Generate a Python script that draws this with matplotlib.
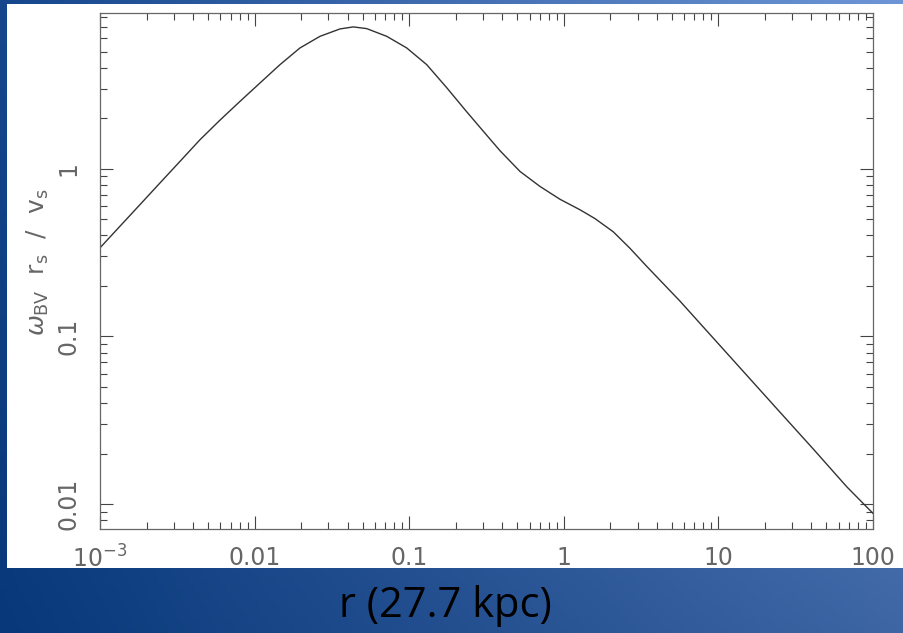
import matplotlib
matplotlib.use("Agg")
import matplotlib.pyplot as plt
from matplotlib.ticker import FixedLocator, FixedFormatter, LogLocator, NullFormatter
import numpy as np

# curve (r in units of 27.7 kpc)
r_vals = [0.001, 0.001346, 0.001814, 0.002444, 0.003293, 0.004434, 0.005972, 0.008042,
          0.010837, 0.014598, 0.01966, 0.02649, 0.03567, 0.04348, 0.05311, 0.07153,
          0.09634, 0.1298, 0.1748, 0.2353, 0.3172, 0.3867, 0.5209, 0.7015, 0.945,
          1.273, 1.591, 2.09, 2.681, 3.438, 5.627, 9.242, 15.19, 24.96, 41.1, 67.6, 100.0]
w_vals = [0.3375, 0.454, 0.611, 0.823, 1.107, 1.4898, 1.95, 2.522,
          3.248, 4.178, 5.256, 6.165, 6.823, 7.015, 6.852, 6.165,
          5.256, 4.178, 3.045, 2.189, 1.585, 1.281, 0.9636, 0.7843, 0.6575,
          0.5692, 0.5043, 0.4205, 0.3352, 0.2618, 0.1628, 0.09795, 0.0589, 0.03541,
          0.02129, 0.01269, 0.0088]

x_ticks = [1e-3, 1e-2, 1e-1, 1, 10, 100]
x_labels = [r"$10^{-3}$", "0.01", "0.1", "1", "10", "100"]
y_ticks = [0.01, 0.1, 1]
y_labels = ["0.01", "0.1", "1"]

W, H = 904, 633
fig = plt.figure(figsize=(W / 100, H / 100), dpi=100)

# blue slide background
bg = fig.add_axes([0, 0, 1, 1])
u = np.linspace(0, 1, 200)[None, :, None]
v = np.linspace(0, 1, 140)[:, None, None]
bl = np.array([8, 56, 122]) / 255.0
br = np.array([62, 102, 165]) / 255.0
tl = np.array([22, 70, 140]) / 255.0
tr = np.array([110, 150, 215]) / 255.0
img = (1 - v) * ((1 - u) * bl + u * br) + v * ((1 - u) * tl + u * tr)
bg.imshow(img, origin="lower", extent=[0, 1, 0, 1], aspect="auto")
bg.add_patch(plt.Rectangle((7 / W, 1 - 568 / H), 1 - 7 / W, (568 - 4) / H,
                           facecolor="white", edgecolor="none"))
bg.set_xlim(0, 1)
bg.set_ylim(0, 1)
bg.axis("off")

ax = fig.add_axes([100 / W, 1 - 529 / H, 773 / W, 516.5 / H])
ax.plot(r_vals, w_vals, color="#333333", linewidth=1.0)
ax.set_xscale("log")
ax.set_yscale("log")
ax.set_xlim(1e-3, 100)
ax.set_ylim(0.0071, 8.55)

ax.xaxis.set_major_locator(FixedLocator(x_ticks))
ax.xaxis.set_major_formatter(FixedFormatter(x_labels))
ax.yaxis.set_major_locator(FixedLocator(y_ticks))
ax.yaxis.set_major_formatter(FixedFormatter(y_labels))
ax.xaxis.set_minor_locator(LogLocator(base=10, subs=np.arange(2, 10), numticks=20))
ax.yaxis.set_minor_locator(LogLocator(base=10, subs=np.arange(2, 10), numticks=20))
ax.xaxis.set_minor_formatter(NullFormatter())
ax.yaxis.set_minor_formatter(NullFormatter())

ax.tick_params(which="both", direction="in", top=True, right=True,
               color="#444444", width=0.8)
ax.tick_params(which="major", length=9.5)
ax.tick_params(which="minor", length=4.8)
ax.tick_params(axis="x", which="major", labelsize=17, labelcolor="#666666", pad=12)
ax.tick_params(axis="y", which="major", labelsize=17, labelcolor="#666666", pad=14)
for lab in ax.get_yticklabels():
    lab.set_rotation(90)
    lab.set_va("center")
for s in ax.spines.values():
    s.set_color("#666666")
    s.set_linewidth(0.9)

fig.text(38 / W, 1 - 262 / H,
         r"$\omega_{\rm BV}$  r$_{\rm s}$  /  v$_{\rm s}$",
         rotation=90, ha="center", va="center", fontsize=18, color="#666666")

fig.text(445 / W, 1 - 606 / H, "r (27.7 kpc)", ha="center", va="center",
         fontsize=30, color="black", family=["Open Sans", "DejaVu Sans"])

fig.savefig("out.png", dpi=100)
